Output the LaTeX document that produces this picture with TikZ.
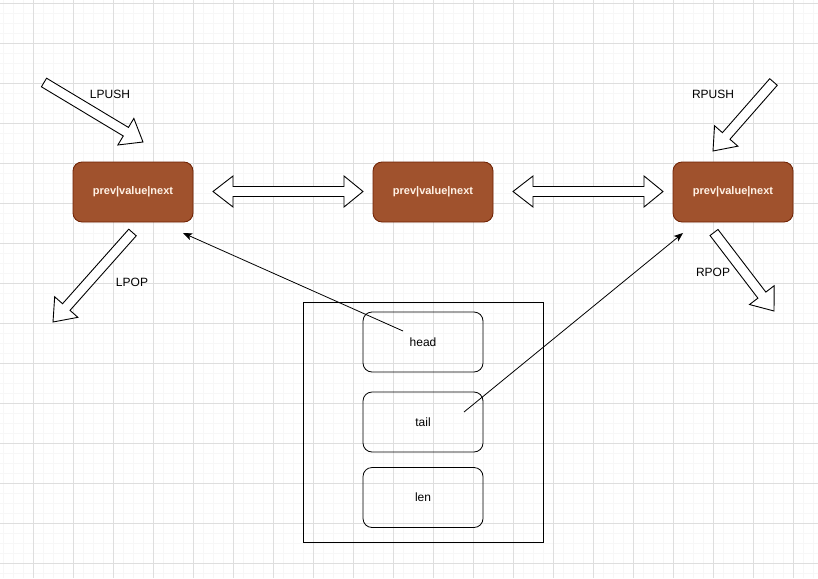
\documentclass[tikz,border=0pt]{standalone}
\usepackage{fontspec}
\setmainfont{Liberation Sans}
\usetikzlibrary{calc,arrows.meta}
\definecolor{nodefill}{HTML}{A0522D}
\definecolor{nodeline}{HTML}{6D1F00}
\definecolor{nodetext}{HTML}{FFF2E6}
\tikzset{
  gridminor/.style={draw=black!3,line width=0.6pt},
  gridmajor/.style={draw=black!13,line width=0.8pt},
  listnode/.style={draw=nodeline,fill=nodefill,rounded corners=9pt,minimum width=120pt,minimum height=60pt,inner sep=0pt,text=nodetext,font=\fontsize{11}{13}\selectfont\bfseries,line width=0.8pt},
  fieldbox/.style={draw=black,rounded corners=9pt,minimum width=120pt,minimum height=60pt,inner sep=0pt,font=\fontsize{12}{14}\selectfont,line width=0.8pt},
  outerbox/.style={draw=black,minimum width=240pt,minimum height=240pt,inner sep=0pt,line width=0.8pt},
  lbl/.style={font=\fontsize{12}{14}\selectfont,inner sep=0pt},
  blk/.style={draw=black,fill=white,line width=0.9pt,line join=miter},
  ptr/.style={draw=black,line width=0.8pt,-{Stealth[length=9pt,width=7pt,inset=2pt]}}
}
\newcommand{\blockarr}[5]{%
  \coordinate (baB) at ($(#2)!#5!(#1)$);
  \draw[blk] ($(#1)!#3!90:(#2)$) -- ($(baB)!#3!-90:(#1)$) -- ($(baB)!#4!-90:(#1)$) -- (#2) -- ($(baB)!#4!90:(#1)$) -- ($(baB)!#3!90:(#1)$) -- ($(#1)!#3!-90:(#2)$) -- cycle;}
\begin{document}
\begin{tikzpicture}[x=1pt,y=-1pt]
\useasboundingbox (0,0) rectangle (818,578);
\fill[white] (0,0) rectangle (818,578);
% grid
\foreach \i in {0,...,81} {\draw[gridminor] (3+10*\i,0) -- (3+10*\i,578);}
\foreach \i in {0,...,57} {\draw[gridminor] (0,3+10*\i) -- (818,3+10*\i);}
\foreach \i in {0,...,20} {\draw[gridmajor] (33+40*\i,0) -- (33+40*\i,578);}
\foreach \i in {0,...,14} {\draw[gridmajor] (0,3+40*\i) -- (818,3+40*\i);}

% list nodes
\node[listnode] (n1) at (133,192) {prev|value|next};
\node[listnode] (n2) at (433,192) {prev|value|next};
\node[listnode] (n3) at (733,192) {prev|value|next};

% double arrows between nodes
\draw[blk] (213,191.5) -- (233,176) -- (233,186.5) -- (344,186.5) -- (344,176) -- (363,191.5) -- (344,207) -- (344,196.5) -- (233,196.5) -- (233,207) -- cycle;
\draw[blk] (513,191.5) -- (533,176) -- (533,186.5) -- (644,186.5) -- (644,176) -- (663,191.5) -- (644,207) -- (644,196.5) -- (533,196.5) -- (533,207) -- cycle;

% push / pop arrows
\coordinate (lpushT) at (44,82.5);  \coordinate (lpushP) at (143,142);
\coordinate (lpopT) at (132.5,232.5); \coordinate (lpopP) at (53,322);
\coordinate (rpushT) at (773.5,82); \coordinate (rpushP) at (713,151);
\coordinate (rpopT) at (714,232.5); \coordinate (rpopP) at (774,311);
\blockarr{lpushT}{lpushP}{5pt}{15.5pt}{20pt}
\blockarr{lpopT}{lpopP}{5pt}{15.5pt}{20pt}
\blockarr{rpushT}{rpushP}{5pt}{15.5pt}{20pt}
\blockarr{rpopT}{rpopP}{5pt}{15.5pt}{20pt}

\node[lbl] (lpush) at (110,94) {LPUSH};
\node[lbl] (lpop) at (132,282) {LPOP};
\node[lbl] (rpush) at (713,94) {RPUSH};
\node[lbl] (rpop) at (713,272) {RPOP};

% struct
\node[outerbox] (list) at (423,422) {};
\node[fieldbox] (head) at (423,342) {head};
\node[fieldbox] (tail) at (423,422) {tail};
\node[fieldbox] (len) at (423,497.5) {len};

\coordinate (headptr) at (403,331);
\coordinate (headtgt) at (183,233);
\coordinate (tailptr) at (464,412);
\coordinate (tailtgt) at (683,233);
\draw[ptr] (headptr) -- (headtgt);
\draw[ptr] (tailptr) -- (tailtgt);
\end{tikzpicture}
\end{document}
